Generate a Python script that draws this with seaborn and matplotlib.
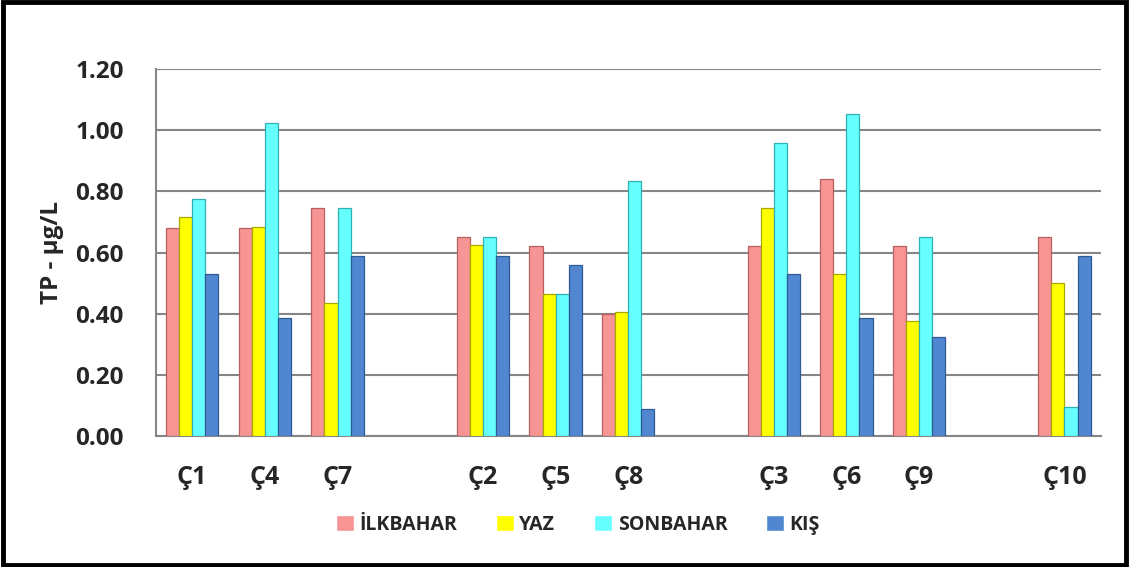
import pandas as pd
import numpy as np
import matplotlib
matplotlib.use("Agg")
import matplotlib.pyplot as plt
import seaborn as sns
from matplotlib.patches import Rectangle

# stations in chart order, blank slots separate the groups
stations = ["Ç1", "Ç4", "Ç7", " ", "Ç2", "Ç5", "Ç8", "  ", "Ç3", "Ç6", "Ç9", "   ", "Ç10"]
seasons = ["İLKBAHAR", "YAZ", "SONBAHAR", "KIŞ"]

ilkbahar = [0.68, 0.68, 0.745, np.nan, 0.65, 0.62, 0.40, np.nan, 0.62, 0.84, 0.62, np.nan, 0.65]
yaz = [0.715, 0.685, 0.435, np.nan, 0.625, 0.465, 0.405, np.nan, 0.745, 0.53, 0.375, np.nan, 0.50]
sonbahar = [0.775, 1.025, 0.745, np.nan, 0.65, 0.465, 0.835, np.nan, 0.96, 1.055, 0.65, np.nan, 0.095]
kis = [0.53, 0.385, 0.59, np.nan, 0.59, 0.56, 0.09, np.nan, 0.53, 0.385, 0.325, np.nan, 0.59]

colors = ["#F79494", "#FFFF00", "#66FFFF", "#5087D0"]
edges = ["#B86060", "#A8A800", "#30B0B0", "#2F5A94"]

df = pd.DataFrame({"station": stations, seasons[0]: ilkbahar, seasons[1]: yaz,
                   seasons[2]: sonbahar, seasons[3]: kis})
long = df.melt(id_vars="station", var_name="season", value_name="tp")

sns.set_style("white")
plt.rcParams["font.family"] = ["Open Sans", "DejaVu Sans"]

fig = plt.figure(figsize=(11.29, 5.67), dpi=100)
ax = fig.add_axes([0.138, 0.231, 0.837, 0.647])

sns.barplot(data=long, x="station", y="tp", hue="season", order=stations,
            hue_order=seasons, palette=colors, width=0.72, gap=0,
            saturation=1, ax=ax, legend=True, zorder=3)

for cont, ec in zip(ax.containers, edges):
    for bar in cont:
        bar.set_edgecolor(ec)
        bar.set_linewidth(0.9)

ax.set_ylim(0, 1.2)
ax.set_xlim(-0.5, len(stations) - 0.5)
ax.set_yticks(np.arange(0, 1.21, 0.2))
ax.set_yticklabels([f"{v:.2f}" for v in np.arange(0, 1.21, 0.2)],
                   fontsize=17.5, fontweight="bold")
ax.set_xticks(range(len(stations)))
ax.set_xticklabels(stations, fontsize=18, fontweight="bold")
ax.set_xticks(np.arange(-0.5, len(stations), 1), minor=True)
ax.tick_params(axis="x", which="major", length=0, pad=21)
ax.tick_params(axis="x", which="minor", length=8, width=1.5, color="#868686", direction="out")
ax.tick_params(axis="y", length=6, width=1.5, color="#868686", direction="out", pad=17)

ax.yaxis.grid(True, color="#868686", linewidth=1.5, zorder=0)
ax.set_axisbelow(True)
for s in ["top", "right"]:
    ax.spines[s].set_visible(False)
for s in ["left", "bottom"]:
    ax.spines[s].set_color("#868686")
    ax.spines[s].set_linewidth(1.5)

ax.set_xlabel("")
ax.set_ylabel("TP - µg/L", fontsize=17.5, fontweight="bold", labelpad=8)

handles, labels = ax.get_legend_handles_labels()
ax.get_legend().remove()
fig.legend(handles, labels, loc="center", bbox_to_anchor=(0.512, 0.074), ncol=4,
           frameon=False, prop={"size": 14, "weight": "bold"},
           handlelength=0.9, handleheight=0.9, handletextpad=0.3, columnspacing=2.0)

fig.patches.append(Rectangle((0.003, 0.003), 0.994, 0.994, transform=fig.transFigure,
                             fill=False, edgecolor="black", linewidth=3.5))

fig.savefig("out.png", dpi=100)
